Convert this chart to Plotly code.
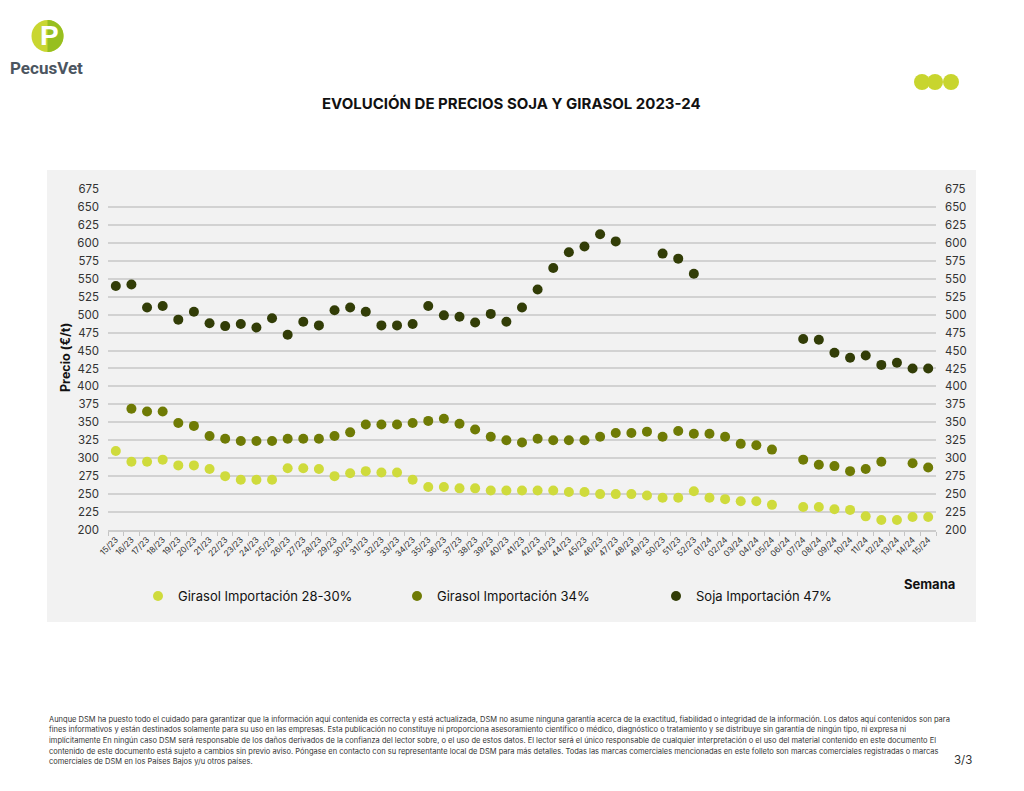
import math
import plotly.graph_objects as go

# ---------------- data ----------------
weeks = ['15/23', '16/23', '17/23', '18/23', '19/23', '20/23', '21/23', '22/23', '23/23', '24/23',
         '25/23', '26/23', '27/23', '28/23', '29/23', '30/23', '31/23', '32/23', '33/23', '34/23',
         '35/23', '36/23', '37/23', '38/23', '39/23', '40/23', '41/23', '42/23', '43/23', '44/23',
         '45/23', '46/23', '47/23', '48/23', '49/23', '50/23', '51/23', '52/23',
         '01/24', '02/24', '03/24', '04/24', '05/24', '06/24', '07/24', '08/24', '09/24', '10/24',
         '11/24', '12/24', '13/24', '14/24', '15/24']

girasol_28_30 = [310, 295, 295, 298, 290, 290, 285, 275, 270, 270,
                 270, 286, 286, 285, 275, 279, 282, 280, 280, 270,
                 260, 260, 258, 258, 255, 255, 255, 255, 255, 253,
                 253, 250, 250, 250, 248, 245, 245, 254,
                 245, 243, 240, 240, 235, None, 232, 232, 229, 228,
                 219, 214, 214, 218, 218]

girasol_34 = [None, 369, 365, 365, 349, 345, 331, 327, 324, 324,
              324, 327, 327, 327, 331, 336, 347, 347, 347, 349,
              352, 355, 348, 340, 330, 325, 322, 327, 325, 325,
              325, 330, 335, 335, 337, 330, 338, 334,
              334, 330, 320, 318, 312, None, 298, 291, 289, 282,
              285, 295, None, 293, 287]

soja_47 = [540, 542, 510, 512, 493, 504, 488, 484, 487, 482,
           495, 472, 490, 485, 506, 510, 504, 485, 485, 487,
           512, 499, 497, 489, 501, 490, 510, 535, 565, 587,
           595, 612, 602, None, None, 585, 578, 557,
           None, None, None, None, None, None, 466, 465, 447, 440,
           443, 430, 433, 425, 425]

series_names = ['Girasol Importación 28-30%', 'Girasol Importación 34%', 'Soja Importación 47%']
series_colors = ['#cfdb3c', '#6f7b05', '#323d07']

y_min, y_max, y_step = 200, 675, 25

footer_lines = [
    "Aunque DSM ha puesto todo el cuidado para garantizar que la información aquí contenida es correcta y está actualizada, DSM no asume ninguna garantía acerca de la exactitud, fiabilidad o integridad de la información. Los datos aquí contenidos son para",
    "fines informativos y están destinados solamente para su uso en las empresas. Esta publicación no constituye ni proporciona asesoramiento científico o médico, diagnóstico o tratamiento y se distribuye sin garantía de ningún tipo, ni expresa ni",
    "implícitamente En ningún caso DSM será responsable de los daños derivados de la confianza del lector sobre, o el uso de estos datos. El lector será el único responsable de cualquier interpretación o el uso del material contenido en este documento El",
    "contenido de este documento está sujeto a cambios sin previo aviso. Póngase en contacto con su representante local de DSM para más detalles. Todas las marcas comerciales mencionadas en este folleto son marcas comerciales registradas o marcas",
    "comerciales de DSM en los Países Bajos y/u otros países.",
]

# ---------------- layout geometry (pixels) ----------------
FW, FH = 1024, 791
L, R, T, B = 108, 936, 189, 530
W, H = R - L, B - T


def fx(x):
    return (x - L) / W


def fy(y):
    return (B - y) / H


FONT = 'Inter, "DejaVu Sans", sans-serif'

fig = go.Figure()
for vals, name, col, yax in zip([girasol_28_30, girasol_34, soja_47], series_names, series_colors,
                                ['y', 'y', 'y2']):
    fig.add_trace(go.Scatter(
        x=weeks, y=vals, name=name, mode='markers', yaxis=yax,
        marker=dict(size=10, color=col, line=dict(width=0)),
    ))

shapes = []
# grey chart panel
shapes.append(dict(type='rect', xref='paper', yref='paper', x0=fx(47), x1=fx(976), y0=fy(622), y1=fy(170),
                   fillcolor='#f2f2f2', line=dict(width=0), layer='below'))
# logo circle
shapes.append(dict(type='circle', xref='paper', yref='paper', x0=fx(31.5), x1=fx(63.5), y0=fy(52), y1=fy(20),
                   fillcolor='#c9d631', line=dict(width=0), layer='above'))
# right half of the logo circle (polygon approximation)
pts = []
cx, cy, rr = 47.5, 36, 16
for i in range(0, 37):
    a = -math.pi / 2 + math.pi * i / 36
    pts.append((cx + rr * math.cos(a), cy + rr * math.sin(a)))
path = 'M ' + ' L '.join(f'{fx(px):.5f},{fy(py):.5f}' for px, py in pts) + ' Z'
shapes.append(dict(type='path', xref='paper', yref='paper', path=path,
                   fillcolor='#97bf1f', line=dict(width=0), layer='above'))
# three dots top right
for cxp in (922, 935, 951):
    shapes.append(dict(type='circle', xref='paper', yref='paper', x0=fx(cxp - 8), x1=fx(cxp + 8),
                       y0=fy(90), y1=fy(74), fillcolor='#c8d52e', line=dict(width=0), layer='above'))

annotations = []
annotations.append(dict(xref='paper', yref='paper', x=fx(49), y=fy(36), text='<b>P</b>', showarrow=False,
                        font=dict(family='"Liberation Sans", sans-serif', size=28, color='white'),
                        xanchor='center', yanchor='middle'))
annotations.append(dict(xref='paper', yref='paper', x=fx(46), y=fy(68), text='<b>PecusVet</b>', showarrow=False,
                        font=dict(family='Roboto, "Liberation Sans", sans-serif', size=17,
                                  color='#4b5560'),
                        xanchor='center', yanchor='middle'))
annotations.append(dict(xref='paper', yref='paper', x=fx(511), y=fy(103),
                        text='<b>EVOLUCIÓN DE PRECIOS SOJA Y GIRASOL 2023-24</b>', showarrow=False,
                        font=dict(family=FONT, size=15, color='#111111'), xanchor='center', yanchor='middle'))
annotations.append(dict(xref='paper', yref='paper', x=fx(65), y=fy(358), text='<b>Precio (€/t)</b>',
                        textangle=-90, showarrow=False, font=dict(family=FONT, size=12.5, color='#111111'),
                        xanchor='center', yanchor='middle'))
annotations.append(dict(xref='paper', yref='paper', x=fx(929), y=fy(584), text='<b>Semana</b>', showarrow=False,
                        font=dict(family=FONT, size=13, color='#111111'), xanchor='center', yanchor='middle'))
for i, line in enumerate(footer_lines):
    annotations.append(dict(xref='paper', yref='paper', x=fx(47), y=fy(719 + i * 10.7), text=line,
                            showarrow=False, font=dict(family=FONT, size=7.5, color='#333333'),
                            xanchor='left', yanchor='middle'))
annotations.append(dict(xref='paper', yref='paper', x=fx(963), y=fy(760), text='3/3', showarrow=False,
                        font=dict(family=FONT, size=11.5, color='#333333'), xanchor='center', yanchor='middle'))

yaxis_common = dict(range=[y_min, y_max], tick0=y_min, dtick=y_step, zeroline=False, ticks='',
                    tickfont=dict(family=FONT, size=11.5, color='#333333'))

fig.update_layout(
    width=FW, height=FH,
    margin=dict(l=L, r=FW - R, t=T, b=FH - B, pad=0),
    paper_bgcolor='white', plot_bgcolor='rgba(0,0,0,0)',
    font=dict(family=FONT, color='#222222'),
    showlegend=True,
    legend=dict(orientation='h', x=fx(138), y=fy(596), xanchor='left', yanchor='middle',
                entrywidth=214, entrywidthmode='pixels', bgcolor='rgba(0,0,0,0)',
                font=dict(family=FONT, size=13, color='#111111'), itemwidth=30),
    xaxis=dict(type='category', range=[-0.5, len(weeks) - 0.5], tickangle=-45,
               tickfont=dict(family=FONT, size=8.3, color='#333333'), showgrid=False,
               showline=True, linecolor='#cccccc', linewidth=1.5, ticks='outside', ticklen=4,
               tickcolor='#c4c4c4', tickson='boundaries'),
    yaxis=dict(**yaxis_common, showgrid=True, gridcolor='#d2d2d2', gridwidth=1.5, side='left',
               ticklabelstandoff=8),
    yaxis2=dict(**yaxis_common, overlaying='y', side='right', showgrid=False, ticklabelstandoff=8),
    shapes=shapes, annotations=annotations,
)

fig.write_html('out.html', config={'displayModeBar': False},
               post_script="document.body.style.margin='0px';")
